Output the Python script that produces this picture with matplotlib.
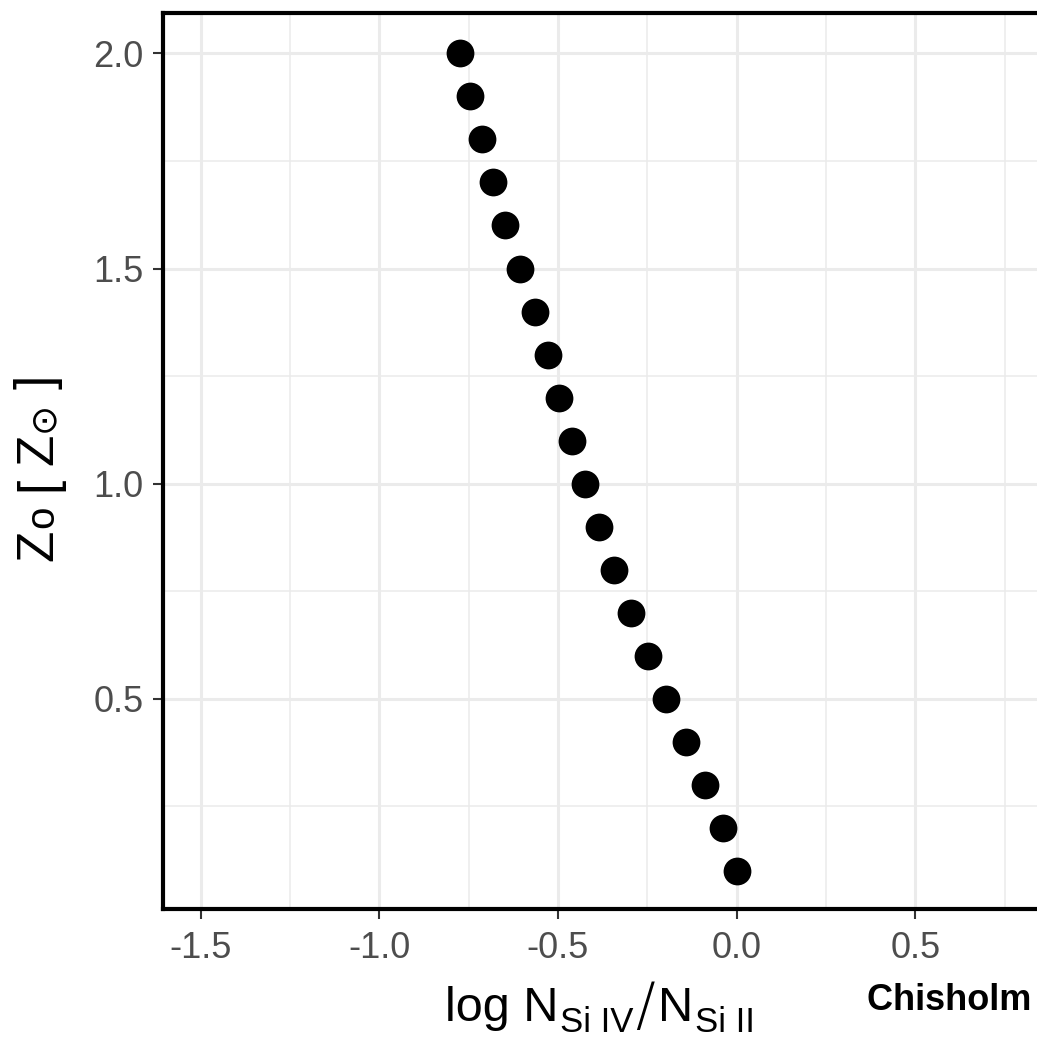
import numpy as np
import matplotlib.pyplot as plt
from matplotlib.ticker import MultipleLocator

plt.rcParams["font.family"] = ["Liberation Sans", "DejaVu Sans"]
plt.rcParams["axes.unicode_minus"] = False

# metallicity grid and the matching Si IV / Si II column ratios
metallicity = [2.0, 1.9, 1.8, 1.7, 1.6, 1.5, 1.4, 1.3, 1.2, 1.1,
               1.0, 0.9, 0.8, 0.7, 0.6, 0.5, 0.4, 0.3, 0.2, 0.1]
log_si_ratio = [-0.775, -0.746, -0.713, -0.682, -0.648, -0.607, -0.563, -0.528,
                -0.496, -0.460, -0.423, -0.384, -0.342, -0.297, -0.248, -0.197,
                -0.143, -0.089, -0.038, 0.000]

W, H = 1037, 1038
fig = plt.figure(figsize=(W / 100, H / 100), dpi=100)

# panel runs past the right edge of the canvas
left, right = 163, 1076
bottom, top = 909, 13
ax = fig.add_axes([left / W, 1 - bottom / H, (right - left) / W, (bottom - top) / H])

ax.scatter(log_si_ratio, metallicity, s=400, color="black", linewidths=0, zorder=3)

ax.set_xlim(-1.6056, 0.95)
ax.set_ylim(0.011, 2.094)

ax.xaxis.set_major_locator(MultipleLocator(0.5))
ax.xaxis.set_minor_locator(MultipleLocator(0.25))
ax.yaxis.set_minor_locator(MultipleLocator(0.25))
ax.set_yticks([0.5, 1.0, 1.5, 2.0])

ax.grid(which="major", color="#ebebeb", linewidth=2.2, zorder=0)
ax.grid(which="minor", color="#ebebeb", linewidth=1.1, zorder=0)
ax.set_axisbelow(True)

for sp in ax.spines.values():
    sp.set_linewidth(3)
    sp.set_color("black")

ax.tick_params(which="major", length=7, width=1.5, color="#333333",
               labelsize=26, labelcolor="#4d4d4d", pad=7)
ax.tick_params(axis="x", which="major", pad=9)
ax.tick_params(which="minor", length=0)

renderer = fig.canvas.get_renderer()


def run_text(x, y, pieces, rotation=0):
    """Lay out text pieces one after another, starting at pixel (x, y) from top-left."""
    for s, size, shift, gap, extra in pieces:
        kw = dict(fontsize=size, ha="left", va="baseline", color="black")
        kw.update(extra)
        if rotation == 0:
            t = fig.text(x / W, 1 - (y + shift) / H, s, **kw)
            bb = t.get_window_extent(renderer)
            x = bb.x1 + gap
        else:
            t = fig.text((x + shift) / W, 1 - y / H, s, rotation=90,
                         rotation_mode="anchor", **kw)
            bb = t.get_window_extent(renderer)
            y = H - bb.y1 - gap


thin = {"family": "DejaVu Sans", "fontweight": 200}

# x title: log N_{Si IV} / N_{Si II}
run_text(445, 1021, [
    ("log N", 35, 0, 1, {}),
    ("Si IV", 25, 11, 2, {}),
    ("/", 42, 4, 4, thin),
    ("N", 35, 0, 1, {}),
    ("Si II", 25, 11, 0, {}),
])

# y title: Z_o [ Z_sun ]
run_text(52, 561, [
    ("Z", 37, 0, 2, {}),
    ("o", 29, 1, 14, {}),
    ("[", 37, 0, 12, {}),
    ("Z", 37, 0, 2, {}),
    ("\u2299", 26, 1, 12, {"family": "DejaVu Sans"}),
    ("]", 37, 0, 0, {}),
], rotation=90)

fig.text(867 / W, 1 - 1010 / H, "Chisholm et al. (2016)", fontsize=26,
         fontweight="bold", ha="left", va="baseline")

fig.savefig("out.png", dpi=100)
